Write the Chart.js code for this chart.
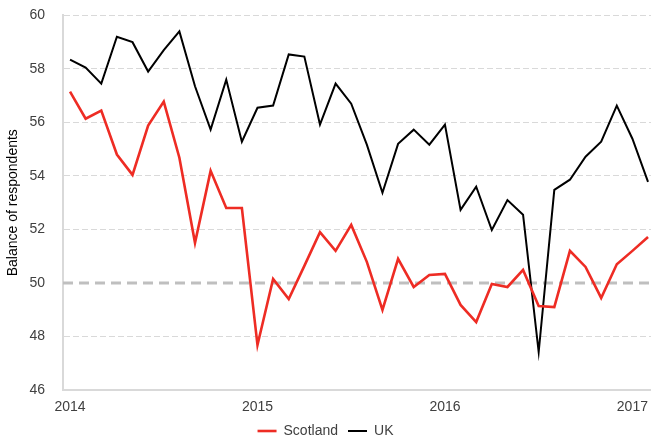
<!DOCTYPE html>
<html>
<head>
<meta charset="utf-8">
<script src="https://cdn.jsdelivr.net/npm/chart.js@4/dist/chart.umd.min.js"></script>
<style>
  html, body { margin: 0; padding: 0; background: #fff; }
  #wrap { width: 651px; height: 441px; position: relative; }
</style>
</head>
<body>
<div id="wrap"><canvas id="c" width="651" height="441"></canvas></div>
<script>
// Monthly data, Jan 2014 .. Feb 2017 (index 0 = Jan 2014)
const scotland = [57.15,56.14,56.44,54.8,54.04,55.88,56.78,54.68,51.5,54.19,52.8,52.8,
                  47.68,50.15,49.4,50.64,51.9,51.2,52.17,50.79,48.99,50.9,49.85,50.3,
                  50.34,49.18,48.54,49.96,49.85,50.49,49.14,49.1,51.2,50.6,49.44,50.7,
                  51.2,51.72];
const uk = [58.35,58.05,57.45,59.2,59.0,57.9,58.7,59.4,57.35,55.73,57.6,55.28,
            56.55,56.63,58.54,58.46,55.92,57.45,56.7,55.17,53.37,55.2,55.73,55.17,
            55.92,52.73,53.6,51.98,53.1,52.55,47.42,53.48,53.86,54.72,55.28,56.63,
            55.39,53.78];
const xTickValues = [0, 12, 24, 36];
const xTickLabels = ['2014', '2015', '2016', '2017'];
const yTicks = [46, 48, 50, 52, 54, 56, 58, 60];
const refValue = 50;

const FONT = 'Liberation Sans, Arial, sans-serif';
const toPts = arr => arr.map((v, i) => ({ x: i, y: v }));

const refLine = {
  id: 'refLine',
  beforeDatasetsDraw(chart) {
    const { ctx, chartArea, scales } = chart;
    const y = scales.y.getPixelForValue(refValue);
    ctx.save();
    ctx.strokeStyle = '#bfbfbf';
    ctx.lineWidth = 3;
    ctx.setLineDash([10, 6]);
    ctx.beginPath();
    ctx.moveTo(chartArea.left, y);
    ctx.lineTo(chartArea.right, y);
    ctx.stroke();
    ctx.restore();
  }
};

new Chart(document.getElementById('c'), {
  type: 'line',
  data: {
    datasets: [
      { label: 'Scotland', data: toPts(scotland), borderColor: '#ee2c24', backgroundColor: '#ee2c24',
        borderWidth: 2.6, pointRadius: 0, tension: 0 },
      { label: 'UK', data: toPts(uk), borderColor: '#000000', backgroundColor: '#000000',
        borderWidth: 2, pointRadius: 0, tension: 0 }
    ]
  },
  options: {
    responsive: false,
    animation: false,
    layout: { padding: { top: 0, right: 0, bottom: 0, left: 0 } },
    plugins: {
      legend: {
        position: 'bottom',
        maxHeight: 27,
        labels: {
          usePointStyle: true,
          pointStyle: 'line',
          pointStyleWidth: 19,
          padding: 10,
          color: '#404040',
          font: { family: FONT, size: 14 }
        }
      },
      tooltip: { enabled: false }
    },
    scales: {
      x: {
        type: 'linear',
        min: -0.45,
        max: 37.19,
        afterFit: s => { s.height = 24; },
        grid: { display: true, drawOnChartArea: false, drawTicks: true, tickLength: 9, color: 'rgba(0,0,0,0)' },
        border: { display: true, color: '#d9d9d9', width: 2 },
        afterBuildTicks: s => { s.ticks = xTickValues.map(v => ({ value: v })); },
        ticks: {
          includeBounds: false,
          maxRotation: 0,
          autoSkip: false,
          padding: 0,
          color: '#404040',
          font: { family: FONT, size: 14 },
          callback: v => xTickLabels[xTickValues.indexOf(v)]
        }
      },
      y: {
        min: 46,
        max: 60,
        afterFit: s => { s.width = 63; },
        afterBuildTicks: s => { s.ticks = yTicks.map(v => ({ value: v })); },
        grid: {
          drawTicks: true,
          tickLength: 11,
          tickColor: 'rgba(0,0,0,0)',
          color: ctx => (ctx.tick && (ctx.tick.value === refValue || ctx.tick.value === 46)) ? 'rgba(0,0,0,0)' : '#d9d9d9',
          lineWidth: 1
        },
        border: { display: true, color: '#d9d9d9', width: 2, dash: [6, 3] },
        ticks: {
          padding: 7,
          color: '#404040',
          font: { family: FONT, size: 14 }
        },
        title: {
          display: true,
          text: 'Balance of respondents',
          color: '#000000',
          padding: { top: 5, bottom: 0 },
          font: { family: FONT, size: 14 }
        }
      }
    }
  },
  plugins: [refLine]
});
</script>
</body>
</html>
